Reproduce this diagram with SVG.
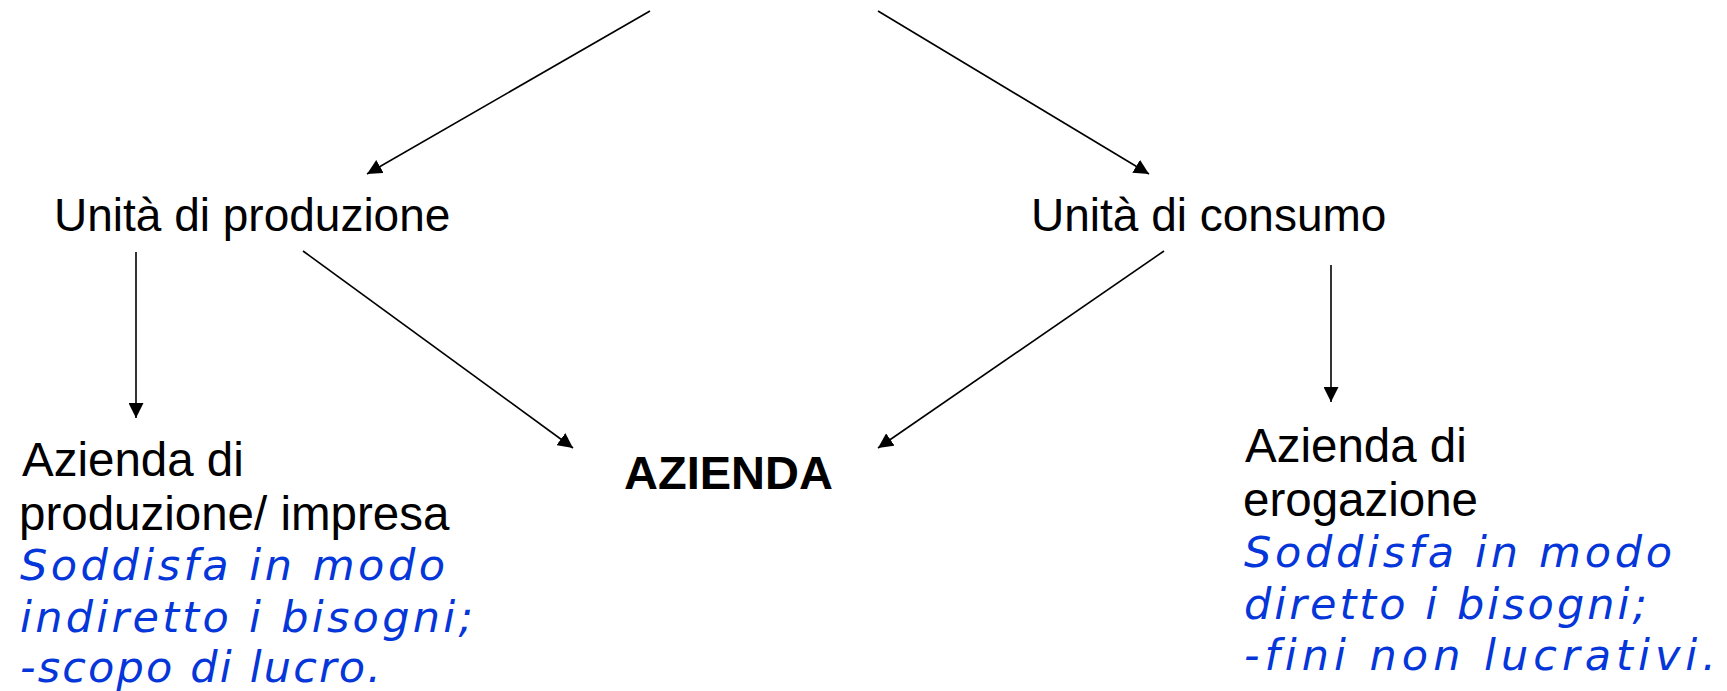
<svg xmlns="http://www.w3.org/2000/svg" width="1727" height="691" viewBox="0 0 1727 691">
<defs>
<marker id="ah" viewBox="0 0 15 15" refX="15" refY="7.5" markerWidth="15" markerHeight="15" markerUnits="userSpaceOnUse" orient="auto">
<path d="M0,0 L15,7.5 L0,15 Z" fill="#000"/>
</marker>
<style>
.lbl{font-family:"Liberation Sans",Arial,sans-serif;font-size:46px;fill:#000}
.blk{font-size:47.5px}
.bold{font-weight:bold;font-size:47px}
.note{font-family:"DejaVu Sans",Verdana,sans-serif;font-style:italic;font-size:43px;fill:#0536d9;font-variant-ligatures:none}
.con{stroke:#000;stroke-width:1.6;fill:none;marker-end:url(#ah)}
</style>
</defs>
<rect width="1727" height="691" fill="#fff"/>
<g id="connectors">
<line class="con" x1="650" y1="11" x2="367" y2="174"/>
<line class="con" x1="878" y1="11" x2="1149" y2="174"/>
<line class="con" x1="136" y1="252" x2="136" y2="418"/>
<line class="con" x1="303" y1="251" x2="573" y2="448"/>
<line class="con" x1="1164" y1="251" x2="878" y2="448"/>
<line class="con" x1="1331" y1="265" x2="1331" y2="402"/>
</g>
<g id="unita-produzione"><text class="lbl" x="54" y="231">Unità di produzione</text></g>
<g id="unita-consumo"><text class="lbl" x="1031" y="231">Unità di consumo</text></g>
<g id="azienda"><text class="lbl bold" x="624" y="489">AZIENDA</text></g>
<g id="azienda-produzione">
<text class="lbl blk" x="22" y="476">Azienda di</text>
<text class="lbl blk" x="19" y="530">produzione/ impresa</text>
<text class="note" x="20" y="580" textLength="425" lengthAdjust="spacing">Soddisfa in modo</text>
<text class="note" x="20" y="632" textLength="453" lengthAdjust="spacing">indiretto i bisogni;</text>
<text class="note" x="20" y="682" textLength="361" lengthAdjust="spacing">-scopo di lucro.</text>
</g>
<g id="azienda-erogazione">
<text class="lbl blk" x="1245" y="462">Azienda di</text>
<text class="lbl blk" x="1243" y="516">erogazione</text>
<text class="note" x="1244" y="567" textLength="428" lengthAdjust="spacing">Soddisfa in modo</text>
<text class="note" x="1244" y="619" textLength="403" lengthAdjust="spacing">diretto i bisogni;</text>
<text class="note" x="1244" y="670" textLength="472" lengthAdjust="spacing">-fini non lucrativi.</text>
</g>
</svg>
